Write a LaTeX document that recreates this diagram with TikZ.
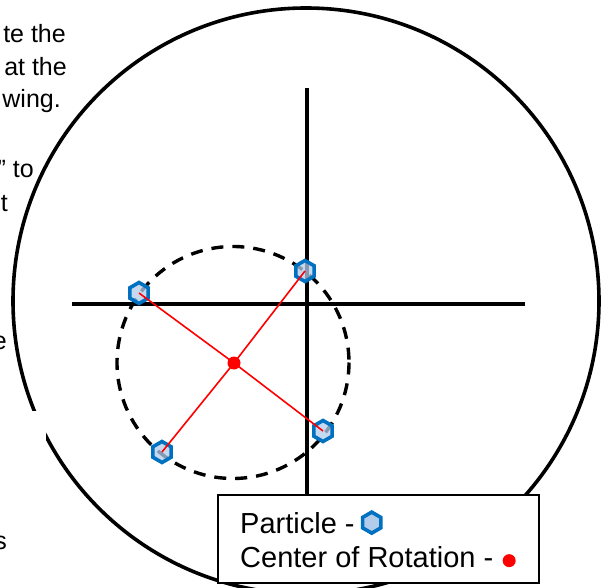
\documentclass[tikz,border=0pt]{standalone}
\usepackage{fontspec}
\setmainfont{Liberation Sans}
\usetikzlibrary{shapes.geometric,positioning}
\definecolor{hexblue}{RGB}{0,112,192}
\definecolor{hexfill}{RGB}{178,205,236}

\begin{document}
\begin{tikzpicture}[x=1pt, y=-1pt,
	particle/.style={regular polygon, regular polygon sides=6, shape border rotate=30, minimum size=21pt, inner sep=0pt, draw=hexblue, line width=3.6pt, fill=hexfill, fill opacity=0.75, draw opacity=1},
	pivot/.style={circle, fill=red, inner sep=0pt, minimum size=13pt},
	arm/.style={red, line width=1.6pt},
	axis/.style={line width=3.6pt},
	cuttext/.style={font=\fontsize{25}{28}\selectfont, anchor=base east, inner sep=0pt},
	legendtext/.style={font=\fontsize{29}{34}\selectfont, inner sep=0pt}]
	\useasboundingbox (0,0) rectangle (613,588);
	\clip (0,0) rectangle (613,588);
	\draw[axis] (306,301) circle[radius=293];
	\fill[white] (0,411) rectangle (46,460);
	\draw[axis] (307,88) -- (307,500);
	\draw[axis] (72,304) -- (525,304);
	\coordinate (c) at (234,363);
	\draw[line width=3.4pt, dash pattern=on 12pt off 9pt] (233,362.5) circle[radius=116];
	\node[particle] (p1) at (139,293) {};
	\node[particle] (p2) at (305,271) {};
	\node[particle] (p3) at (323,431) {};
	\node[particle] (p4) at (162,452) {};
	\draw[arm] (p1.center) -- (c) -- (p3.center);
	\draw[arm] (p2.center) -- (c) -- (p4.center);
	\node[pivot] (rot) at (c) {};
	\node[draw, line width=1.2pt, fill=white, minimum width=321pt, minimum height=88pt, inner sep=0pt] (key) at (378.5,539) {};
	\node[legendtext, anchor=base west] (ktop) at (240,533) {Particle -};
	\node[particle, right=6pt of ktop, fill opacity=1] (kpart) {};
	\node[legendtext, anchor=base west] (kbot) at (240,567) {Center of Rotation -};
	\node[pivot, right=9pt of kbot, yshift=-4pt] (krot) {};
	\node[cuttext] (t1) at (66,43) {te the};
	\node[cuttext] (t2) at (67,76) {at the};
	\node[cuttext] (t3) at (61,108) {wing.};
	\node[cuttext] (t4) at (34,178) {” to};
	\node[cuttext] (t5) at (8,212) {t};
	\node[cuttext] (t6) at (7,349) {e};
	\node[cuttext] (t7) at (7,549) {s};
\end{tikzpicture}
\end{document}
